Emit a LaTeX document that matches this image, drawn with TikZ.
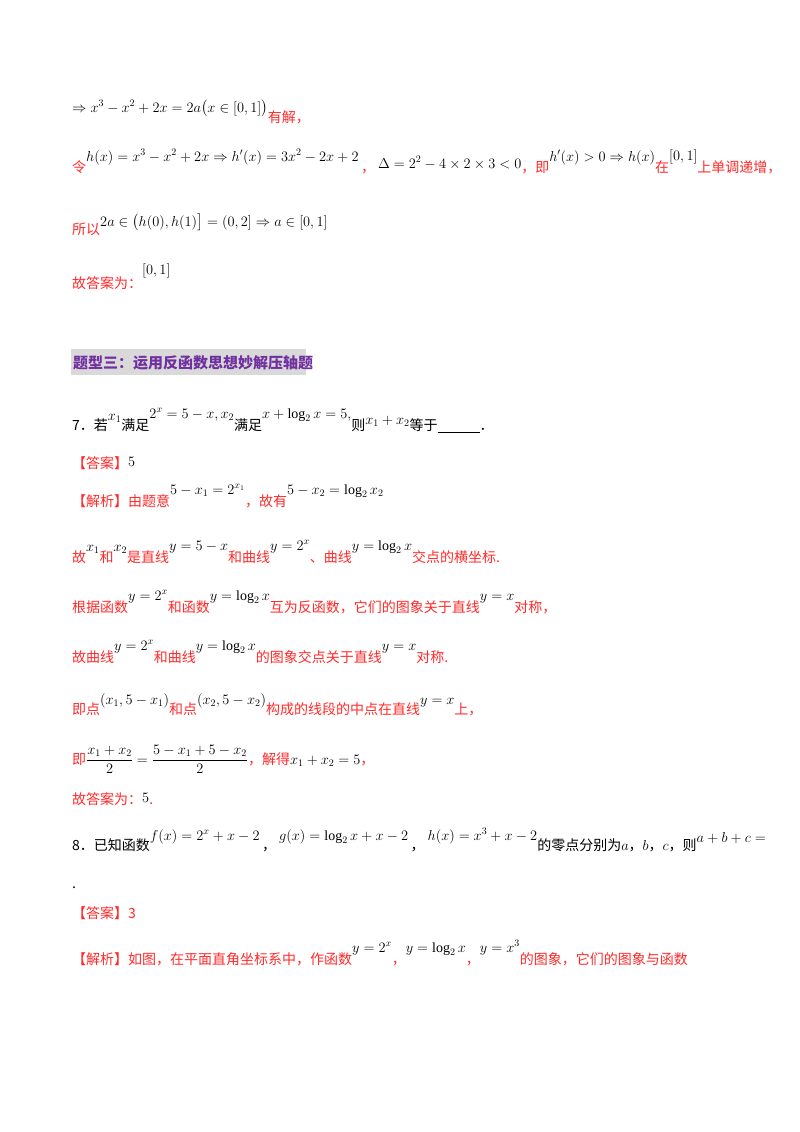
\documentclass[tikz,border=0pt]{standalone}
\usepackage{fontspec}
\usepackage{amsmath,amssymb}
\setmainfont{Liberation Serif}
\newfontfamily\cjk{Noto Sans CJK SC}
\definecolor{rd}{HTML}{FF2A2A}
\definecolor{pu}{HTML}{7030A0}
\definecolor{hb}{HTML}{D9D9D9}
\newcommand{\M}[2]{\textcolor{black}{\raisebox{#1}{$#2$}}}
\begin{document}
\begin{tikzpicture}[x=1pt,y=-1pt,
  ln/.style={anchor=base west,inner sep=0pt,font=\fontsize{14}{16}\selectfont\cjk,text=rd},
  bk/.style={ln,text=black}]
\useasboundingbox[fill=white] (0,0) rectangle (800,1132);
\node[ln] (l1) at (72,122) {\M{10pt}{\Rightarrow x^3-x^2+2x=2a\bigl(x\in[0,1]\bigr)}有解，};
\node[ln] (l2) at (72,172) {令\M{11pt}{h(x)=x^3-x^2+2x\Rightarrow h'(x)=3x^2-2x+2}\,，\ \M{4pt}{\Delta=2^2-4\times2\times3<0}，即\M{11pt}{h'(x)>0\Rightarrow h(x)}在\M{12pt}{[0,1]}上单调递增，};
\node[ln] (l3) at (72,234) {所以\M{8pt}{2a\in\bigl(h(0),h(1)\bigr]=(0,2]\Rightarrow a\in[0,1]}};
\node[ln] (l4) at (72,288) {故答案为：\M{14pt}{[0,1]}};
\fill[hb] (71,349) rectangle (306,375);
\node[ln,text=pu,font=\fontsize{15}{16}\selectfont\cjk\bfseries] (h) at (73,368) {题型三：运用反函数思想妙解压轴题};
\node[bk] (q7) at (72,430) {7．若\M{10pt}{x_1}满足\M{12pt}{2^x=5-x,x_2}满足\M{12pt}{x+\log_2x=5,}则\M{6pt}{x_1+x_2}等于\underline{\hspace{42pt}}．};
\node[ln] (a7) at (72,468) {【答案】\M{2pt}{5}};
\node[ln] (j7) at (72,506) {【解析】由题意\M{12pt}{5-x_1=2^{x_1}}，故有\M{12pt}{5-x_2=\log_2x_2}};
\node[ln] (l5) at (72,562) {故\M{11pt}{x_1}和\M{11pt}{x_2}是直线\M{12pt}{y=5-x}和曲线\M{12pt}{y=2^x}、曲线\M{12pt}{y=\log_2x}交点的横坐标.};
\node[ln] (l6) at (72,612) {根据函数\M{12pt}{y=2^x}和函数\M{12pt}{y=\log_2x}互为反函数，它们的图象关于直线\M{12pt}{y=x}对称，};
\node[ln] (l7) at (72,662) {故曲线\M{12pt}{y=2^x}和曲线\M{12pt}{y=\log_2x}的图象交点关于直线\M{12pt}{y=x}对称.};
\node[ln] (l8) at (72,714) {即点\M{10pt}{(x_1,5-x_1)}和点\M{10pt}{(x_2,5-x_2)}构成的线段的中点在直线\M{10pt}{y=x}上，};
\node[ln] (l9) at (72,764) {即\M{0pt}{\dfrac{x_1+x_2}{2}=\dfrac{5-x_1+5-x_2}{2}}，解得\M{0pt}{x_1+x_2=5}，};
\node[ln] (l10) at (72,804) {故答案为：\M{2pt}{5}.};
\node[bk] (q8) at (72,850) {8．已知函数\M{10pt}{f(x)=2^x+x-2}\,，\ \M{10pt}{g(x)=\log_2x+x-2}\,，\ \M{10pt}{h(x)=x^3+x-2}的零点分别为$a$，$b$，$c$，则\M{8pt}{a+b+c=}};
\node[bk] (dot) at (72,888) {.};
\node[ln] (a8) at (72,918) {【答案】\textcolor{rd}{3}};
\node[ln] (j8) at (72,964) {【解析】如图，在平面直角坐标系中，作函数\M{12pt}{y=2^x}，\M{12pt}{y=\log_2x}，\M{12pt}{y=x^3}的图象，它们的图象与函数};
\end{tikzpicture}
\end{document}
